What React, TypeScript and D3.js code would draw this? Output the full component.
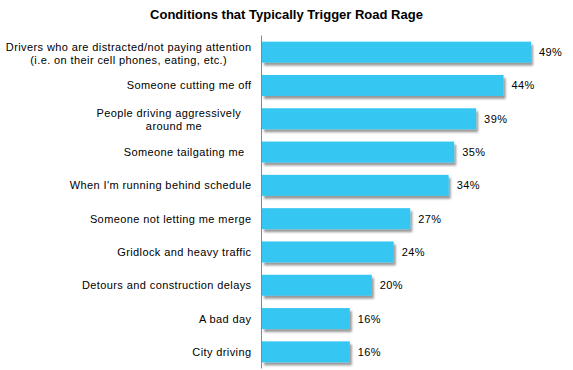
import { useEffect, useRef } from 'react';
import * as d3 from 'd3';

// label lines are split on \n; trailing spaces are kept as in the source chart
const categories = [
    'Drivers who are distracted/not paying attention\n(i.e. on their cell phones, eating, etc.)',
    'Someone cutting me off',
    'People driving aggressively   \naround me',
    'Someone tailgating me  ',
    "When I'm running behind schedule",
    'Someone not letting me merge',
    'Gridlock and heavy traffic',
    'Detours and construction delays',
    'A bad day',
    'City driving',
];
const values = [49, 44, 39, 35, 34, 27, 24, 20, 16, 16];
const title = 'Conditions that Typically Trigger Road Rage';

export default function App() {
    const svgRef = useRef<SVGSVGElement>(null);

    useEffect(() => {
        if (!svgRef.current) return;
        const width = 573;
        const height = 370;

        const svg = d3.select(svgRef.current);
        svg.selectAll('*').remove();
        svg.attr('width', width).attr('height', height);

        const font = 'Arial, "Liberation Sans", sans-serif';

        // drop shadow for the bars
        const defs = svg.append('defs');
        const filter = defs
            .append('filter')
            .attr('id', 'barShadow')
            .attr('x', '-5%')
            .attr('y', '-20%')
            .attr('width', '115%')
            .attr('height', '160%');
        filter
            .append('feDropShadow')
            .attr('dx', 2)
            .attr('dy', 3)
            .attr('stdDeviation', 1.2)
            .attr('flood-color', '#000')
            .attr('flood-opacity', 0.4);

        const x = d3.scaleLinear().domain([0, 50]).range([262, 536.5]);
        const y = d3
            .scaleBand<string>()
            .domain(categories)
            .range([35.5, 368.5])
            .paddingInner(0.37)
            .paddingOuter(0.185);

        // title
        svg.append('text')
            .attr('x', 286.5)
            .attr('y', 19)
            .attr('text-anchor', 'middle')
            .attr('font-family', font)
            .attr('font-size', 13)
            .attr('font-weight', 'bold')
            .attr('fill', '#000')
            .text(title);

        // bars
        svg.append('g')
            .selectAll('rect')
            .data(values)
            .enter()
            .append('rect')
            .attr('x', x(0))
            .attr('y', (_, i) => y(categories[i]) as number)
            .attr('width', (d) => x(d) - x(0))
            .attr('height', y.bandwidth())
            .attr('fill', '#35C6F2')
            .attr('filter', 'url(#barShadow)');

        // category axis line
        svg.append('line')
            .attr('x1', 261.5)
            .attr('x2', 261.5)
            .attr('y1', y.range()[0])
            .attr('y2', y.range()[1])
            .attr('stroke', '#868686')
            .attr('stroke-width', 1);

        // category labels
        const labelRight = 251.5;
        categories.forEach((cat) => {
            const lines = cat.split('\n');
            const c = (y(cat) as number) + y.bandwidth() / 2;
            const t = svg
                .append('text')
                .attr('font-family', font)
                .attr('font-size', 11)
                .attr('letter-spacing', '0.4px')
                .attr('fill', '#000')
                .style('white-space', 'pre');
            const spans = lines.map((line, j) =>
                t
                    .append('tspan')
                    .attr('y', c + 4 - 6.5 * (lines.length - 1) + 1 * (lines.length - 1) + j * 13)
                    .text(line)
            );
            if (lines.length === 1) {
                t.attr('text-anchor', 'end');
                spans[0].attr('x', labelRight);
            } else {
                const w = d3.max(spans, (s) => (s.node() as SVGTSpanElement).getComputedTextLength()) || 0;
                t.attr('text-anchor', 'middle');
                spans.forEach((s) => s.attr('x', labelRight - w / 2));
            }
        });

        // value labels
        svg.append('g')
            .selectAll('text')
            .data(values)
            .enter()
            .append('text')
            .attr('x', (d) => x(d) + 8)
            .attr('y', (_, i) => (y(categories[i]) as number) + y.bandwidth() / 2 + 4)
            .attr('font-family', font)
            .attr('font-size', 11)
            .attr('letter-spacing', '0.4px')
            .attr('fill', '#000')
            .text((d) => `${d}%`);
    }, []);

    return (
        <div style={{ position: 'absolute', left: 0, top: 0, background: '#fff' }}>
            <svg ref={svgRef} style={{ display: 'block' }} />
        </div>
    );
}
